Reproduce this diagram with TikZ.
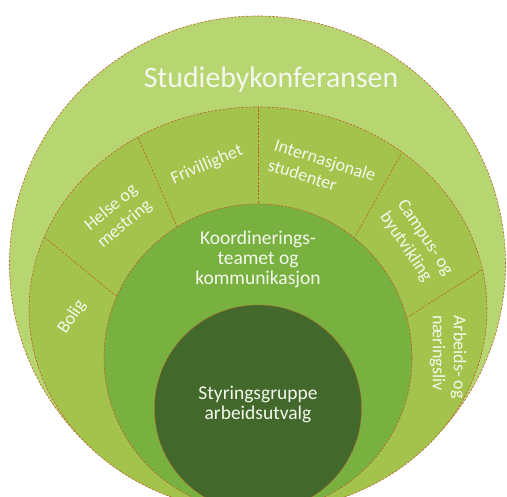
\documentclass[tikz,border=0pt]{standalone}
\usepackage{fontspec}
\setmainfont{Carlito}
\definecolor{outerc}{HTML}{B7D672}
\definecolor{ringc}{HTML}{A4C34C}
\definecolor{midc}{HTML}{78B13F}
\definecolor{darkc}{HTML}{42682B}
\definecolor{bordc}{HTML}{B8652C}
\definecolor{txtc}{HTML}{F4F8EC}
\begin{document}
\begin{tikzpicture}[x=1pt,y=-1pt,
  bord/.style={draw=bordc, line width=0.6pt, dash pattern=on 2.4pt off 1.4pt},
  lbl/.style={text=txtc, font=\fontsize{18}{21}\selectfont, align=center, inner sep=0pt},
  lbll/.style={lbl, align=left},
  biglbl/.style={text=txtc, font=\fontsize{19.5}{20}\selectfont, align=center, inner sep=0pt}]
\fill[white] (0,0) rectangle (507,497);
\useasboundingbox (0,0) rectangle (507,497);
\begin{scope}
\clip (0,0) rectangle (507,497);
% outer circle
\filldraw[fill=outerc, bord] (257.5,264) circle [radius=248pt];
% ring ellipse
\filldraw[fill=ringc, bord] (258,309.5) ellipse [x radius=229pt, y radius=202.5pt];
\coordinate (C) at (258,412);
\begin{scope}
\clip (258,309.5) ellipse [x radius=229pt, y radius=202.5pt];
\draw[bord] (C) -- ++(140.7:400pt);
\draw[bord] (C) -- ++(113.6:400pt);
\draw[bord] (C) -- ++(90:400pt);
\draw[bord] (C) -- ++(61:400pt);
\draw[bord] (C) -- ++(32.4:400pt);
\end{scope}
% middle circle
\filldraw[fill=midc, bord] (258,358) circle [radius=154pt];
% dark circle
\filldraw[fill=darkc, bord] (258,408.5) circle [radius=103.5pt];
\end{scope}
% labels
\node[text=txtc, font=\fontsize{29.8}{32}\selectfont, inner sep=0pt] (konf) at (271,80) {Studiebykonferansen};
\node[lbl, rotate=23] (friv) at (207,165) {Frivillighet};
\node[lbll, rotate=-17.5] (inter) at (322,170) {Internasjonale\\studenter};
\node[lbl, rotate=40] (helse) at (118,216) {Helse og\\mestring};
\node[lbll, rotate=-56] (campus) at (416,244) {Campus- og\\byutvikling};
\node[lbll, rotate=-90] (arbeid) at (448,357) {Arbeids- og\\næringsliv};
\node[lbl, rotate=56] (bolig) at (72,317) {Bolig};
\node[biglbl] (koord) at (258,259) {Koordinerings-\\teamet og\\kommunikasjon};
\node[biglbl] (styr) at (258,404) {Styringsgruppe\\arbeidsutvalg};
\end{tikzpicture}
\end{document}
